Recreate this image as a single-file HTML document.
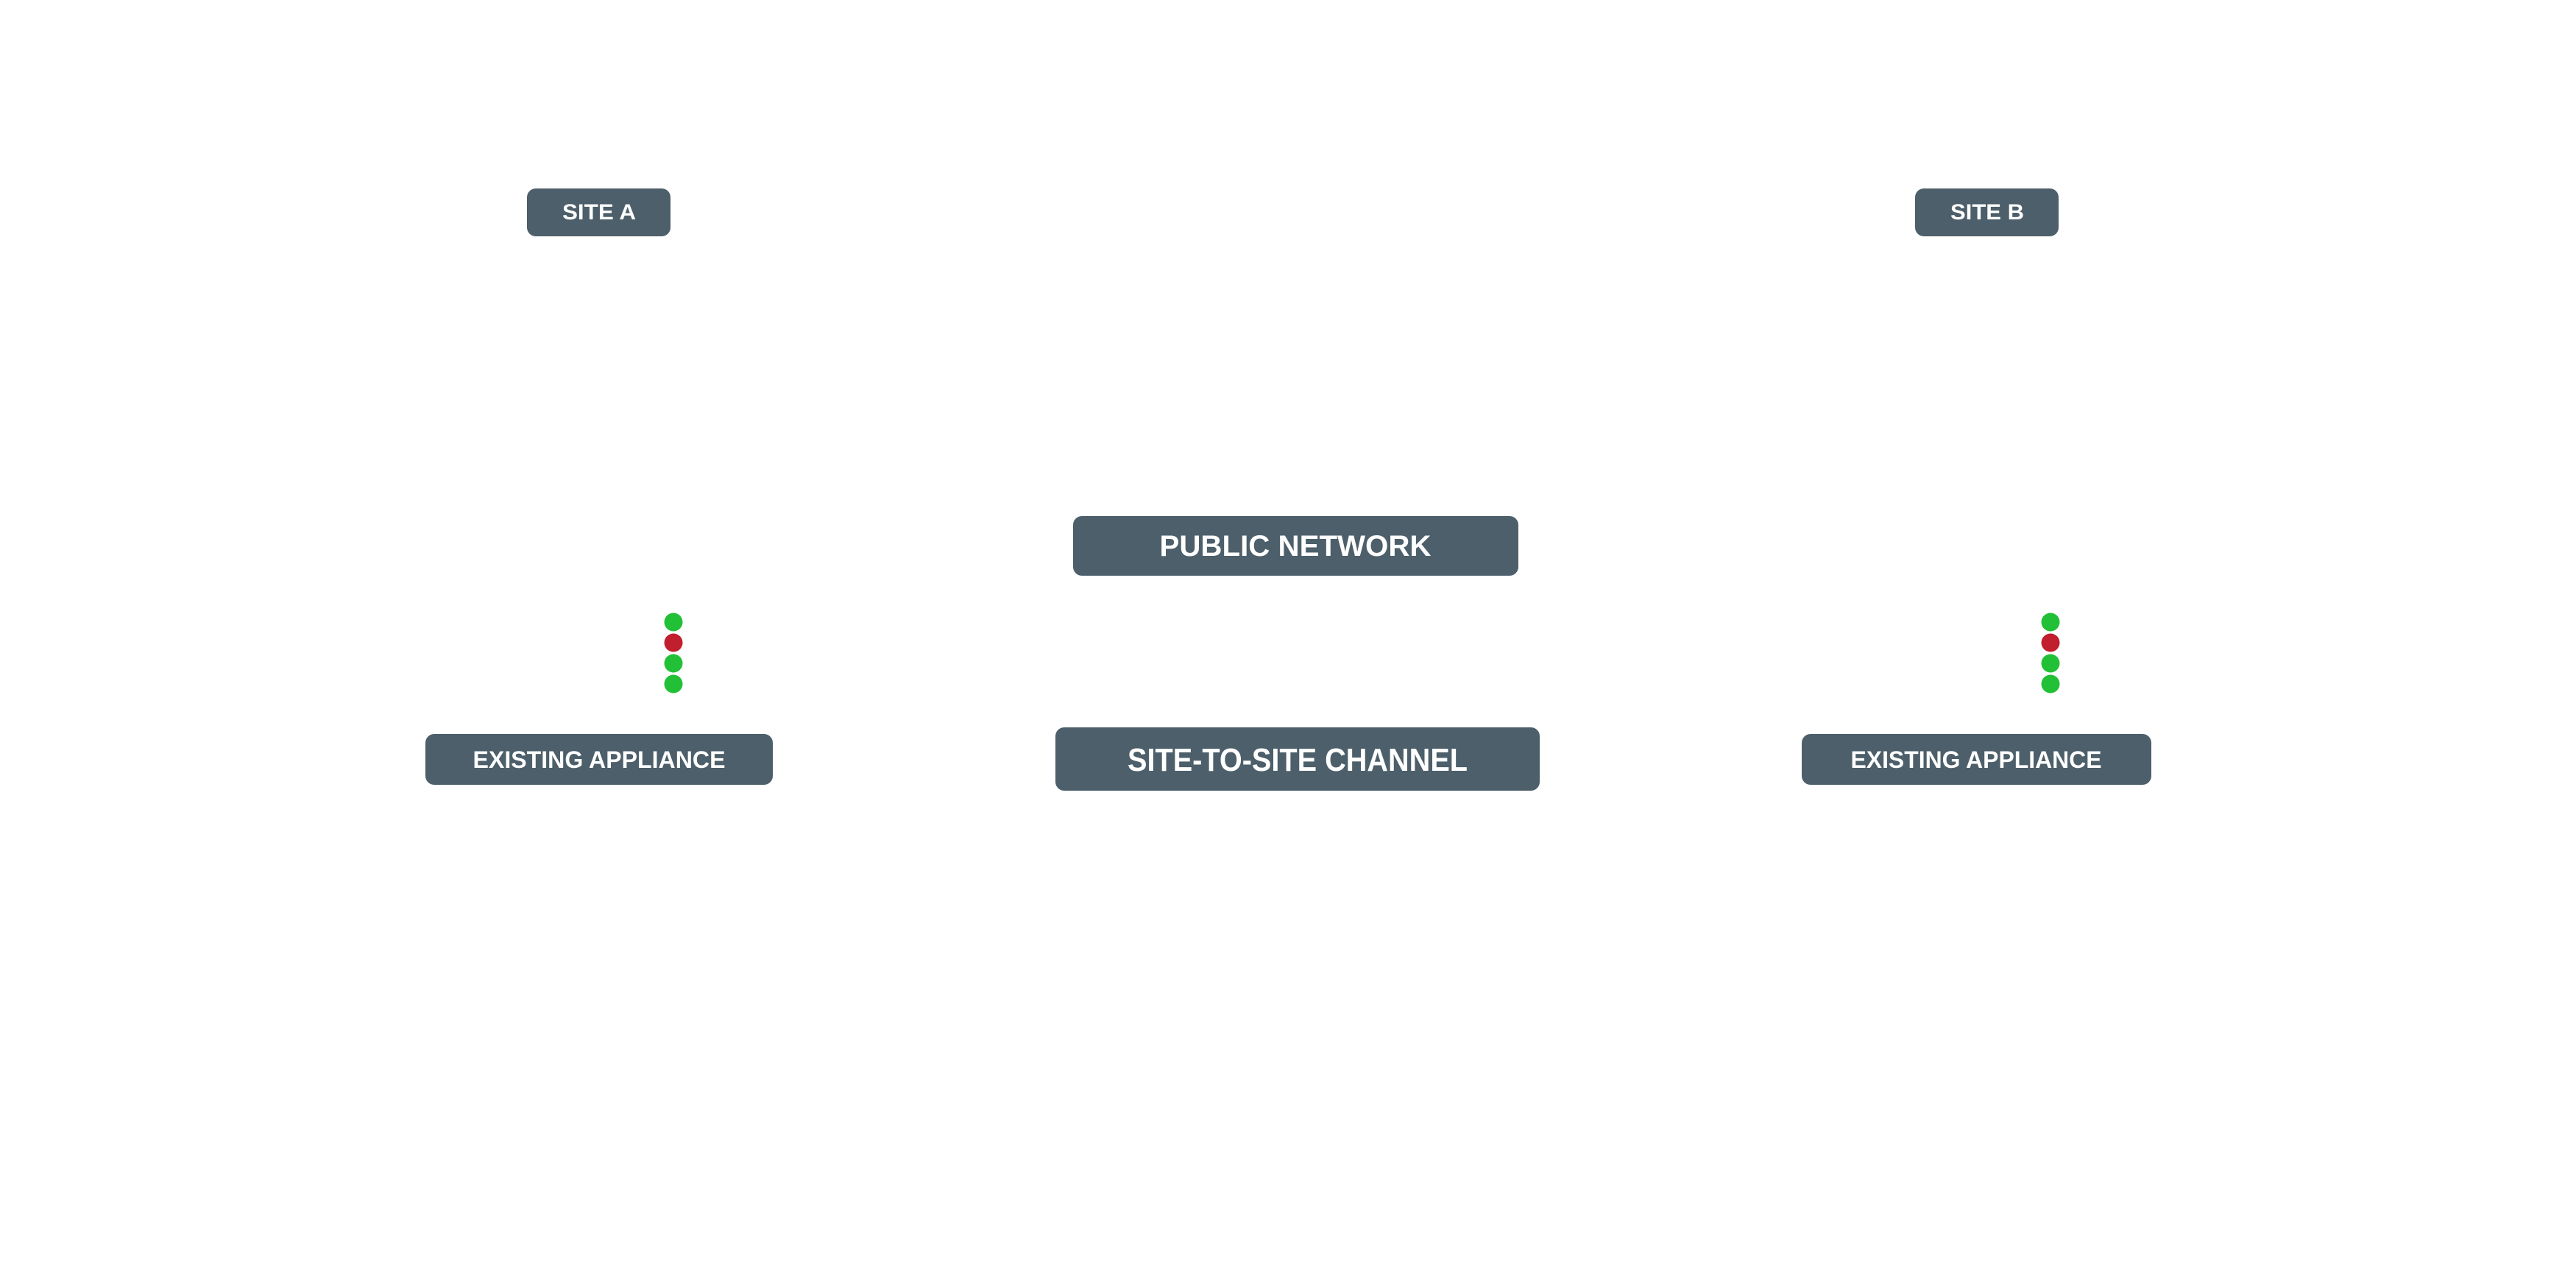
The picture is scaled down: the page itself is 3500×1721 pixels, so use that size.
<!DOCTYPE html>
<html><head><meta charset="utf-8"><style>
html,body{margin:0;padding:0;background:#fff;}
svg{display:block;}
text{font-family:"Liberation Sans",sans-serif;font-weight:bold;fill:#fff;}
</style></head><body>
<svg width="3500" height="1721" viewBox="0 0 3500 1721" xmlns="http://www.w3.org/2000/svg">
<rect width="3500" height="1721" fill="#fff"/>
<g fill="#4c5f6a">
<rect x="716" y="256" width="195" height="65" rx="12"/>
<rect x="2602" y="256" width="195" height="65" rx="12"/>
<rect x="1458" y="701" width="605" height="81" rx="12"/>
<rect x="1434" y="988" width="658" height="86" rx="12"/>
<rect x="578" y="997" width="472" height="69" rx="12"/>
<rect x="2448" y="997" width="475" height="69" rx="12"/>
</g>
<text x="814" y="298" font-size="30" text-anchor="middle" textLength="100" lengthAdjust="spacingAndGlyphs">SITE A</text>
<text x="2700" y="298" font-size="30" text-anchor="middle" textLength="100" lengthAdjust="spacingAndGlyphs">SITE B</text>
<text x="1760" y="755" font-size="40" text-anchor="middle" textLength="369" lengthAdjust="spacingAndGlyphs">PUBLIC NETWORK</text>
<text x="1763" y="1047" font-size="44" text-anchor="middle" textLength="462" lengthAdjust="spacingAndGlyphs">SITE-TO-SITE CHANNEL</text>
<text x="814" y="1043" font-size="32" text-anchor="middle" textLength="343" lengthAdjust="spacingAndGlyphs">EXISTING APPLIANCE</text>
<text x="2685" y="1043" font-size="32" text-anchor="middle" textLength="341" lengthAdjust="spacingAndGlyphs">EXISTING APPLIANCE</text>
<g>
<circle cx="915" cy="845" r="12.5" fill="#22c036"/>
<circle cx="915" cy="873" r="12.5" fill="#c11e2e"/>
<circle cx="915" cy="901" r="12.5" fill="#22c036"/>
<circle cx="915" cy="929" r="12.5" fill="#22c036"/>
<circle cx="2786" cy="845" r="12.5" fill="#22c036"/>
<circle cx="2786" cy="873" r="12.5" fill="#c11e2e"/>
<circle cx="2786" cy="901" r="12.5" fill="#22c036"/>
<circle cx="2786" cy="929" r="12.5" fill="#22c036"/>
</g>
</svg>
</body></html>
